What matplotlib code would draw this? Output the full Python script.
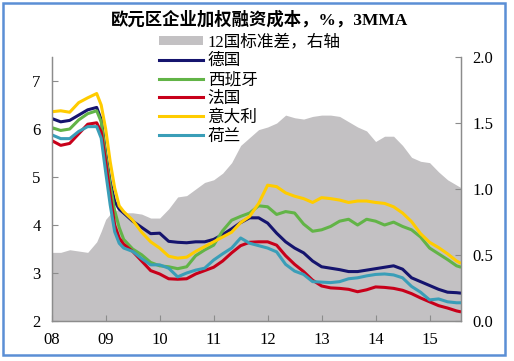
import matplotlib
matplotlib.use("Agg")
import matplotlib.pyplot as plt
from matplotlib.patches import Patch, Rectangle
from matplotlib.lines import Line2D

plt.rcParams["font.family"] = ["Liberation Serif", "Noto Sans CJK SC"]

# month index, 0 = Jan 2008
months = [0, 2, 4, 6, 8, 10, 11, 12, 13, 14, 15, 16, 18, 20, 22, 24, 26, 28, 30,
          32, 34, 36, 38, 40, 42, 44, 46, 48, 50, 52, 54, 56, 58, 60, 62, 64, 66,
          68, 70, 72, 74, 76, 78, 80, 82, 84, 86, 88, 90, 91]

germany = [6.22, 6.15, 6.18, 6.29, 6.40, 6.45, 6.20, 5.50, 4.90, 4.49, 4.33, 4.25,
           4.08, 3.95, 3.82, 3.83, 3.66, 3.64, 3.63, 3.65, 3.65, 3.70, 3.80, 3.92,
           4.05, 4.15, 4.15, 4.04, 3.83, 3.65, 3.52, 3.42, 3.25, 3.13, 3.10, 3.07,
           3.03, 3.03, 3.06, 3.09, 3.12, 3.15, 3.08, 2.90, 2.82, 2.74, 2.66, 2.60,
           2.59, 2.58]
spain = [6.03, 5.97, 6.00, 6.19, 6.32, 6.38, 6.15, 5.45, 4.83, 4.30, 3.95, 3.70,
         3.50, 3.38, 3.22, 3.15, 3.13, 3.09, 3.13, 3.36, 3.48, 3.58, 3.88, 4.10,
         4.18, 4.25, 4.40, 4.38, 4.22, 4.28, 4.25, 4.02, 3.87, 3.90, 3.97, 4.08,
         4.12, 4.00, 4.12, 4.08, 4.00, 4.06, 3.97, 3.90, 3.75, 3.52, 3.40, 3.28,
         3.15, 3.12]
france = [5.76, 5.66, 5.70, 5.90, 6.10, 6.13, 5.94, 5.32, 4.63, 4.00, 3.73, 3.60,
          3.45, 3.25, 3.05, 2.98, 2.88, 2.87, 2.88, 2.98, 3.05, 3.12, 3.25, 3.42,
          3.57, 3.64, 3.65, 3.65, 3.58, 3.36, 3.18, 3.03, 2.85, 2.73, 2.69, 2.68,
          2.66, 2.61, 2.65, 2.71, 2.70, 2.68, 2.64, 2.57, 2.48, 2.40, 2.32, 2.27,
          2.21, 2.19]
italy = [6.36, 6.38, 6.35, 6.55, 6.65, 6.74, 6.50, 6.00, 5.32, 4.77, 4.40, 4.28,
         4.10, 3.85, 3.65, 3.52, 3.35, 3.31, 3.33, 3.45, 3.55, 3.65, 3.75, 3.85,
         4.05, 4.18, 4.45, 4.83, 4.80, 4.67, 4.60, 4.55, 4.47, 4.57, 4.55, 4.52,
         4.47, 4.50, 4.50, 4.47, 4.45, 4.38, 4.25, 4.07, 3.82, 3.64, 3.53, 3.40,
         3.25, 3.20]
netherlands = [5.88, 5.80, 5.80, 5.95, 6.05, 6.05, 5.81, 5.10, 4.42, 3.86, 3.62, 3.52,
               3.45, 3.30, 3.17, 3.17, 3.10, 2.92, 3.00, 3.06, 3.10, 3.27, 3.40, 3.52,
               3.73, 3.62, 3.57, 3.52, 3.44, 3.18, 3.04, 2.97, 2.82, 2.81, 2.80, 2.82,
               2.88, 2.90, 2.94, 2.97, 2.98, 2.96, 2.90, 2.72, 2.60, 2.44, 2.46, 2.40,
               2.38, 2.38]
std12 = [0.52, 0.52, 0.54, 0.53, 0.52, 0.60, 0.68, 0.77, 0.81, 0.84, 0.84, 0.82,
         0.82, 0.81, 0.78, 0.78, 0.85, 0.94, 0.95, 1.00, 1.05, 1.07, 1.12, 1.20,
         1.33, 1.39, 1.45, 1.47, 1.50, 1.56, 1.54, 1.53, 1.55, 1.56, 1.56, 1.55,
         1.51, 1.47, 1.44, 1.36, 1.40, 1.40, 1.33, 1.24, 1.21, 1.20, 1.13, 1.07,
         1.03, 1.01]

year_ticks = [0, 12, 24, 36, 48, 60, 72, 84]
year_labels = ["08", "09", "10", "11", "12", "13", "14", "15"]

series = [
    ("德国", germany, "#15146E"),
    ("西班牙", spain, "#62B447"),
    ("法国", france, "#C8001A"),
    ("意大利", italy, "#FFCC00"),
    ("荷兰", netherlands, "#3A9EB8"),
]
GREY = "#C3C1C3"
AXIS = "#8C8C8C"

fig = plt.figure(figsize=(5.14, 3.61), dpi=100)
ax = fig.add_axes([0.1006, 0.1108, 0.7964, 0.7312])
ax2 = ax.twinx()

# grey area: cross-country standard deviation on the right axis
ax2.fill_between(months, 0, std12, color=GREY, linewidth=0)
ax2.set_ylim(0, 2.0)
ax2.set_yticks([0, 0.5, 1.0, 1.5, 2.0])
ax2.set_yticklabels(["0.0", "0.5", "1.0", "1.5", "2.0"])

for name, vals, col in series:
    ax.plot(months, vals, color=col, linewidth=2.2, solid_capstyle="butt")

ax.set_zorder(ax2.get_zorder() + 1)
ax.patch.set_visible(False)

ax.set_xlim(0, 91)
ax.set_ylim(2, 7.5)
ax.set_yticks([2, 3, 4, 5, 6, 7])
ax.set_xticks(year_ticks)
ax.set_xticklabels(year_labels)

for a in (ax, ax2):
    a.spines["top"].set_visible(False)
    for s in ("left", "right", "bottom"):
        a.spines[s].set_color(AXIS)
        a.spines[s].set_linewidth(0.9)
    a.tick_params(direction="in", length=4, color=AXIS, labelsize=12, pad=8)
ax.tick_params(axis="x", pad=8)

fig.text(0.505, 0.945, "欧元区企业加权融资成本，%，3MMA", ha="center", va="center",
         fontsize=12.5, fontweight="bold")

handles = [Patch(facecolor=GREY, edgecolor="none", label="12国标准差，右轴")]
handles += [Line2D([], [], color=col, linewidth=2.2, label=name) for name, _, col in series]
fig.legend(handles=handles, loc="upper left", bbox_to_anchor=(0.31, 0.905),
           frameon=False, fontsize=12, handlelength=2.6, handleheight=0.5,
           handletextpad=0.3, labelspacing=0.17, borderpad=0, borderaxespad=0)

fig.patches.append(Rectangle((3 / 514, 6 / 361), 502 / 514, 352 / 361,
                             transform=fig.transFigure, fill=False,
                             edgecolor="#5B8FD5", linewidth=1.8))

fig.savefig("out.png", dpi=100)
